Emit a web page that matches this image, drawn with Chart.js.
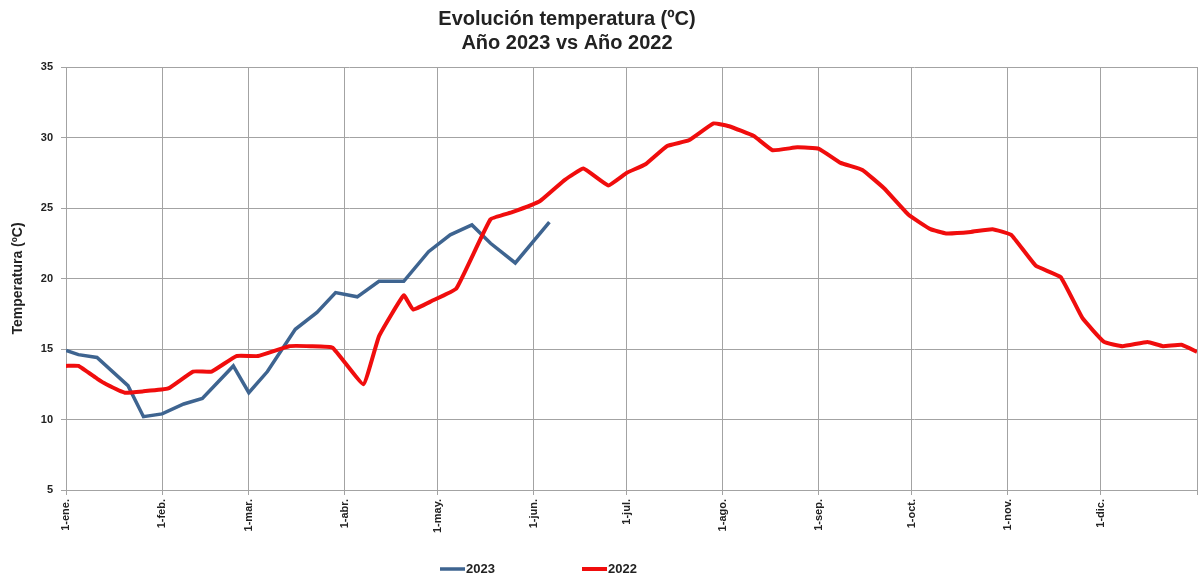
<!DOCTYPE html>
<html>
<head>
<meta charset="utf-8">
<script src="https://cdn.jsdelivr.net/npm/chart.js@4/dist/chart.umd.min.js"></script>
<style>
html,body{margin:0;padding:0;background:#fff;}
#wrap{width:1200px;height:577px;position:relative;}
</style>
</head>
<body>
<div id="wrap"><canvas id="c" width="1200" height="577"></canvas></div>
<script>
// ---- data ----
const titleLines = ["Evolución temperatura (ºC)", "Año 2023 vs Año 2022"];
const yTitle = "Temperatura (ºC)";
const monthDays = [0, 31, 59, 90, 120, 151, 181, 212, 243, 273, 304, 334];
const monthLabels = ["1-ene.", "1-feb.", "1-mar.", "1-abr.", "1-may.", "1-jun.", "1-jul.", "1-ago.", "1-sep.", "1-oct.", "1-nov.", "1-dic."];
const yearEnd = 365;

const series2023Label = "2023";
const days2023 = [0, 4, 10, 20, 25, 31, 38, 44, 54, 59, 65, 74, 81, 87, 94, 101, 109, 117, 124, 131, 137, 145, 156];
const temps2023 = [14.9, 14.6, 14.4, 12.4, 10.2, 10.4, 11.1, 11.5, 13.8, 11.9, 13.4, 16.4, 17.6, 19.0, 18.7, 19.8, 19.8, 21.9, 23.1, 23.8, 22.5, 21.1, 24.0];

const series2022Label = "2022";
const days2022 = [0, 4, 10, 13, 19, 25, 33, 41, 47, 55, 62, 72, 79, 86, 96, 101, 109, 112, 118, 126, 137, 144, 153, 161, 167, 175, 181, 187, 194, 201, 209, 214, 222, 228, 236, 243, 250, 257, 264, 272, 279, 284, 292, 299, 305, 313, 321, 328, 335, 341, 349, 354, 360, 365];
const temps2022 = [13.8, 13.8, 12.9, 12.5, 11.9, 12.0, 12.2, 13.4, 13.4, 14.5, 14.5, 15.2, 15.2, 15.1, 12.5, 15.9, 18.8, 17.8, 18.4, 19.3, 24.2, 24.7, 25.5, 27.0, 27.8, 26.6, 27.5, 28.1, 29.4, 29.8, 31.0, 30.8, 30.1, 29.1, 29.3, 29.2, 28.2, 27.7, 26.4, 24.5, 23.5, 23.2, 23.3, 23.5, 23.1, 20.9, 20.1, 17.2, 15.5, 15.2, 15.5, 15.2, 15.3, 14.8];

const yMin = 5, yMax = 35, yStep = 5;

// ---- styles ----
const COLOR_2023 = "#3e6490";
const COLOR_2022 = "#f00d0d";
const GRID = "#a3a3a3";
const FONT = "'Liberation Sans', Arial, sans-serif";

const toPts = (xs, ys) => xs.map((d, i) => ({x: d, y: ys[i]}));

const bgPlugin = {
  id: 'bg',
  beforeDraw(chart) {
    const ctx = chart.ctx;
    ctx.save();
    ctx.fillStyle = '#fff';
    ctx.fillRect(0, 0, chart.width, chart.height);
    ctx.restore();
  }
};

const textPlugin = {
  id: 'texts',
  afterDraw(chart) {
    const ctx = chart.ctx;
    ctx.save();
    // title
    ctx.fillStyle = '#222';
    ctx.font = "bold 20px " + FONT;
    ctx.textAlign = 'center';
    ctx.textBaseline = 'middle';
    ctx.fillText(titleLines[0], 567, 19);
    ctx.fillText(titleLines[1], 567, 43);
    // y title
    ctx.font = "bold 14px " + FONT;
    ctx.translate(18, (chart.chartArea.top + chart.chartArea.bottom) / 2);
    ctx.rotate(-Math.PI / 2);
    ctx.fillText(yTitle, 0, 0);
    ctx.restore();

    // legend
    ctx.save();
    ctx.font = "bold 13px " + FONT;
    ctx.textBaseline = 'middle';
    ctx.textAlign = 'left';
    const ly = 569;
    const items = [
      {x: 440, label: chart.data.datasets[0].label, color: COLOR_2023, w: 3.5},
      {x: 582, label: chart.data.datasets[1].label, color: COLOR_2022, w: 4}
    ];
    items.forEach(it => {
      ctx.strokeStyle = it.color;
      ctx.lineWidth = it.w;
      ctx.beginPath();
      ctx.moveTo(it.x, ly);
      ctx.lineTo(it.x + 25, ly);
      ctx.stroke();
      ctx.fillStyle = '#222';
      ctx.fillText(it.label, it.x + 26, ly);
    });
    ctx.restore();
  }
};

new Chart(document.getElementById('c'), {
  type: 'line',
  data: {
    datasets: [
      {
        label: series2023Label,
        data: toPts(days2023, temps2023),
        borderColor: COLOR_2023,
        backgroundColor: COLOR_2023,
        borderWidth: 3.5,
        pointRadius: 0,
        tension: 0,
        order: 2
      },
      {
        label: series2022Label,
        data: toPts(days2022, temps2022),
        borderColor: COLOR_2022,
        backgroundColor: COLOR_2022,
        borderWidth: 4,
        pointRadius: 0,
        tension: 0.1,
        order: 1
      }
    ]
  },
  options: {
    responsive: false,
    animation: false,
    layout: {padding: {top: 67, right: 3, left: 0, bottom: 0}},
    plugins: {
      legend: {display: false},
      title: {display: false},
      tooltip: {enabled: false}
    },
    scales: {
      x: {
        type: 'linear',
        min: 0,
        max: yearEnd,
        afterBuildTicks(scale) {
          scale.ticks = monthDays.concat([yearEnd]).map(v => ({value: v}));
        },
        afterFit(scale) {
          scale.height = 87;
          scale.paddingLeft = 0;
          scale.paddingRight = 0;
        },
        ticks: {
          autoSkip: false,
          minRotation: 90,
          maxRotation: 90,
          padding: 4,
          color: '#222',
          font: {family: FONT, size: 11, weight: 'bold'},
          callback(v) {
            const i = monthDays.indexOf(v);
            return i >= 0 ? monthLabels[i] : '';
          }
        },
        grid: {color: GRID, lineWidth: 1, tickLength: 5, drawTicks: true},
        border: {color: GRID, width: 1}
      },
      y: {
        min: yMin,
        max: yMax,
        afterFit(scale) {
          scale.width = 66;
          scale.paddingTop = 0;
          scale.paddingBottom = 0;
        },
        ticks: {
          stepSize: yStep,
          padding: 8,
          color: '#222',
          font: {family: FONT, size: 11, weight: 'bold'}
        },
        grid: {color: GRID, lineWidth: 1, tickLength: 5},
        border: {color: GRID, width: 1}
      }
    }
  },
  plugins: [bgPlugin, textPlugin]
});
</script>
</body>
</html>
